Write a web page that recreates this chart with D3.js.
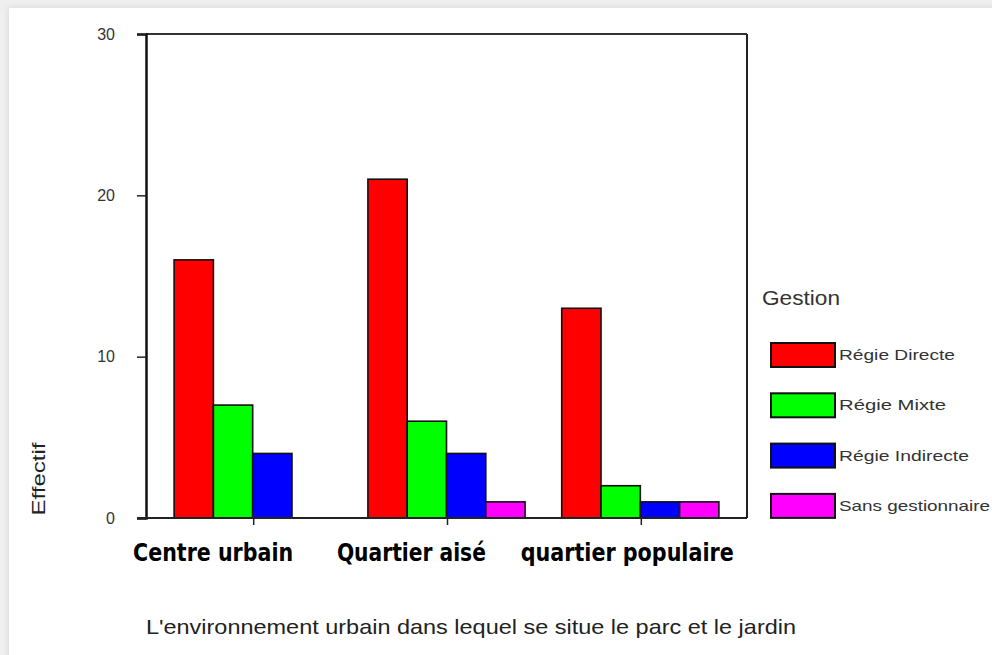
<!DOCTYPE html>
<html><head><meta charset="utf-8">
<script src="https://cdn.jsdelivr.net/npm/d3@7"></script>
<style>html,body{margin:0;padding:0;background:#fff;}svg{display:block;}</style>
</head><body>
<svg id="chart" width="992" height="655"></svg>
<script>
// ---- data ----
const categories = ["Centre urbain", "Quartier aisé", "quartier populaire"];
const seriesNames = ["Régie Directe", "Régie Mixte", "Régie Indirecte", "Sans gestionnaire"];
const regieDirecte = [16, 21, 13];
const regieMixte = [7, 6, 2];
const regieIndirecte = [4, 4, 1];
const sansGestionnaire = [0, 1, 1];
const yTicks = [0, 10, 20, 30];
const legendTitle = "Gestion";
const yTitle = "Effectif";
const xTitle = "L'environnement urbain dans lequel se situe le parc et le jardin";

// ---- layout / style ----
const colors = ["#ff0000", "#00ff00", "#0000ff", "#ff00ff"];
const series = [regieDirecte, regieMixte, regieIndirecte, sansGestionnaire];
const plot = {left: 146, right: 747, top: 34, bottom: 518};

const svg = d3.select("#chart");

// screenshot-like frame
const defs = svg.append("defs");
const f = defs.append("filter").attr("id", "sh").attr("x", "-5%").attr("y", "-5%").attr("width", "110%").attr("height", "110%");
f.append("feGaussianBlur").attr("in", "SourceAlpha").attr("stdDeviation", 3);
f.append("feOffset").attr("dx", 0).attr("dy", 0).attr("result", "b");
f.append("feFlood").attr("flood-color", "#000").attr("flood-opacity", 0.12);
f.append("feComposite").attr("in2", "b").attr("operator", "in");
const m = f.append("feMerge"); m.append("feMergeNode"); m.append("feMergeNode").attr("in", "SourceGraphic");
svg.append("rect").attr("width", 992).attr("height", 655).attr("fill", "#efefef");
svg.append("rect").attr("x", 9).attr("y", 8).attr("width", 990).attr("height", 660).attr("fill", "#fff").attr("filter", "url(#sh)");

const x0 = d3.scaleBand().domain(categories).range([plot.left, plot.right]).paddingInner(0.189).paddingOuter(0.145);
const x1 = d3.scaleBand().domain(seriesNames).range([0, x0.bandwidth()]);
const y = d3.scaleLinear().domain([0, 30]).range([plot.bottom, plot.top]);

// bars
const groups = svg.append("g").selectAll("g").data(categories).join("g")
  .attr("transform", d => `translate(${x0(d)},0)`);
groups.selectAll("rect")
  .data((c, i) => seriesNames.map((s, j) => ({s, j, v: series[j][i]})).filter(d => d.v > 0))
  .join("rect")
  .attr("x", d => x1(d.s))
  .attr("y", d => y(d.v))
  .attr("width", x1.bandwidth())
  .attr("height", d => y(0) - y(d.v))
  .attr("fill", d => colors[d.j])
  .attr("stroke", "#111")
  .attr("stroke-width", 1.6);

// frame
const frame = svg.append("g").attr("fill", "none");
frame.append("line").attr("x1", plot.right).attr("x2", plot.right).attr("y1", plot.top).attr("y2", plot.bottom).attr("stroke", "#222").attr("stroke-width", 2);
frame.append("line").attr("x1", plot.left).attr("x2", plot.right).attr("y1", plot.top).attr("y2", plot.top).attr("stroke", "#333").attr("stroke-width", 2);

// y axis
const yAxis = d3.axisLeft(y).tickValues(yTicks).tickSize(9).tickPadding(22).tickFormat(d3.format("d"));
const ya = svg.append("g").attr("transform", `translate(${plot.left},0)`).call(yAxis);
ya.select(".domain").attr("stroke", "#111").attr("stroke-width", 2.5);
ya.selectAll(".tick line").attr("stroke", "#222").attr("stroke-width", 1.5);
ya.selectAll(".tick text").attr("font-family", "Liberation Sans Narrow, Liberation Sans, Arial, sans-serif").attr("font-size", 16).attr("fill", "#333");

// x axis
const xAxis = d3.axisBottom(x0).tickSize(0).tickFormat("");
const xa = svg.append("g").attr("transform", `translate(0,${plot.bottom})`).call(xAxis);
xa.select(".domain").remove();
xa.append("line").attr("x1", plot.left - 9).attr("x2", plot.right).attr("stroke", "#222").attr("stroke-width", 2);
xa.selectAll(".tick").append("line").attr("x1", 1).attr("x2", 1).attr("y1", 0).attr("y2", 7).attr("stroke", "#222").attr("stroke-width", 1.5);

// category labels
const labelWidths = [160, 149, 213];
svg.append("g").selectAll("text").data(categories).join("text")
  .attr("x", (d, i) => x0(d) - 41 + (i === 1 ? 10 : 0))
  .attr("y", 561)
  .attr("font-family", "Liberation Sans Narrow, DejaVu Sans Condensed, Arial Narrow, sans-serif")
  .attr("font-weight", "bold")
  .attr("font-size", 25)
  .attr("textLength", (d, i) => labelWidths[i])
  .attr("lengthAdjust", "spacingAndGlyphs")
  .attr("fill", "#000")
  .text(d => d);

// x title
svg.append("text").attr("x", 146).attr("y", 634)
  .attr("font-family", "Liberation Sans, Arial, sans-serif").attr("font-size", 21)
  .attr("textLength", 650).attr("lengthAdjust", "spacingAndGlyphs")
  .attr("fill", "#222").text(xTitle);

// y title
svg.append("text").attr("transform", "translate(45,479) rotate(-90)")
  .attr("text-anchor", "middle")
  .attr("font-family", "Liberation Sans, Arial, sans-serif").attr("font-size", 18)
  .attr("textLength", 73).attr("lengthAdjust", "spacingAndGlyphs")
  .attr("fill", "#222").text(yTitle);

// legend
const lg = svg.append("g");
lg.append("text").attr("x", 762).attr("y", 305)
  .attr("font-family", "Liberation Sans, Arial, sans-serif").attr("font-size", 21)
  .attr("textLength", 78).attr("lengthAdjust", "spacingAndGlyphs")
  .attr("fill", "#333").text(legendTitle);
const legendWidths = [116, 107, 130, 151];
const items = lg.selectAll("g.item").data(seriesNames).join("g").attr("class", "item")
  .attr("transform", (d, i) => `translate(771,${343 + i * 50.3})`);
items.append("rect").attr("width", 64).attr("height", 24)
  .attr("fill", (d, i) => colors[i]).attr("stroke", "#111").attr("stroke-width", 2);
items.append("text").attr("x", 68).attr("y", 17)
  .attr("font-family", "Liberation Sans, Arial, sans-serif").attr("font-size", 15)
  .attr("textLength", (d, i) => legendWidths[i]).attr("lengthAdjust", "spacingAndGlyphs")
  .attr("fill", "#333").text(d => d);
</script>
</body></html>
